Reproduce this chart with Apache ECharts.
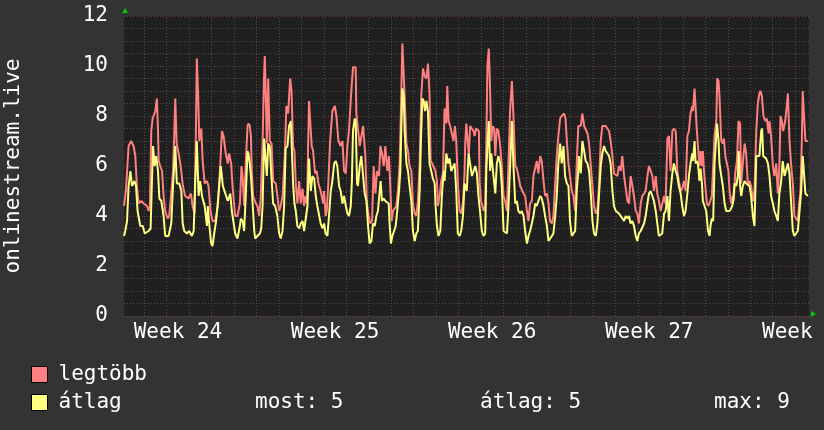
<!DOCTYPE html>
<html>
<head>
<meta charset="utf-8">
<title>onlinestream.live</title>
<script src="https://cdn.jsdelivr.net/npm/echarts@6.0.0/dist/echarts.min.js"></script>
<style>
	html, body { margin: 0; padding: 0; background: #333333; }
	#chart { width: 824px; height: 430px; }
</style>
</head>
<body>
<div id="chart"></div>
<script>
	var monoFont = 'DejaVu Sans Mono';
	/* idő: napok a 24. hét kezdete óta */
	var timeRange = [1.095, 31.62];
	var weekLabels = ['Week 24', 'Week 25', 'Week 26', 'Week 27', 'Week 28'];
	var weekLabelPos = [3.5, 10.5, 17.5, 24.5, 31.5];
	var seriesNames = ['legtöbb', 'átlag'];
	var colorList = ['#ff8080', '#ffff80'];
	var statLabels = ['most: 5', 'átlag: 5', 'max: 9'];

	/* legtöbb */
	var maxPts = [
		[1.095,4.4],[1.18,5.0],[1.30,6.8],[1.41,7.0],[1.52,6.8],[1.60,6.4],[1.67,5.2],[1.75,4.5],[1.87,4.6],[1.97,4.5],
		[2.12,4.4],[2.19,4.2],[2.25,4.4],[2.31,7.4],[2.37,7.9],[2.49,8.2],[2.56,8.7],[2.61,7.4],[2.64,6.2],[2.71,6.0],
		[2.79,5.8],[2.86,4.8],[2.93,4.2],[3.04,3.9],[3.11,4.0],[3.20,4.9],[3.28,5.8],[3.34,7.4],[3.38,8.7],[3.44,6.9],
		[3.53,6.5],[3.62,6.0],[3.72,5.2],[3.82,4.8],[3.97,4.7],[4.08,4.9],[4.15,4.4],[4.24,4.1],[4.30,7.4],[4.34,10.3],
		[4.40,8.8],[4.45,7.0],[4.54,7.5],[4.60,6.2],[4.69,5.3],[4.79,5.4],[4.86,5.2],[4.95,4.2],[5.04,3.8],[5.16,3.8],
		[5.28,4.4],[5.38,6.0],[5.46,7.4],[5.53,7.2],[5.63,6.5],[5.72,6.1],[5.78,6.5],[5.87,6.1],[5.93,5.2],[6.05,4.0],
		[6.15,4.0],[6.26,4.5],[6.33,6.0],[6.38,5.6],[6.45,4.4],[6.52,6.1],[6.60,7.6],[6.64,7.7],[6.70,7.6],[6.75,7.2],
		[6.79,5.8],[6.85,4.8],[6.97,4.5],[7.04,4.4],[7.12,4.0],[7.19,4.8],[7.27,6.9],[7.33,9.4],[7.37,10.4],[7.43,8.1],
		[7.46,6.9],[7.52,9.5],[7.59,7.0],[7.67,6.9],[7.74,5.4],[7.86,5.3],[7.93,4.8],[8.01,4.2],[8.08,4.4],[8.16,4.8],
		[8.26,6.4],[8.33,8.4],[8.41,8.1],[8.50,9.5],[8.56,9.0],[8.63,6.8],[8.69,6.6],[8.75,5.3],[8.82,4.5],[8.90,5.4],
		[8.97,4.5],[9.05,5.1],[9.12,4.4],[9.19,4.8],[9.25,4.5],[9.34,8.6],[9.46,6.8],[9.52,6.6],[9.61,5.7],[9.68,5.8],
		[9.76,5.3],[9.86,5.0],[9.97,4.5],[10.01,5.0],[10.08,4.0],[10.13,4.2],[10.20,5.3],[10.28,7.0],[10.38,8.2],[10.49,8.4],
		[10.56,8.0],[10.65,7.0],[10.75,6.8],[10.83,7.0],[10.90,5.8],[10.98,5.7],[11.05,6.8],[11.12,7.4],[11.21,8.8],
		[11.30,9.95],[11.42,9.95],[11.45,8.1],[11.52,8.1],[11.60,6.8],[11.67,6.8],[11.75,7.6],[11.79,7.6],[11.85,6.4],[11.92,4.5],
		[12.00,4.0],[12.07,3.7],[12.15,3.8],[12.22,6.0],[12.30,4.9],[12.37,5.8],[12.46,5.6],[12.52,6.8],[12.59,6.5],[12.67,6.0],
		[12.74,6.8],[12.79,6.2],[12.83,5.8],[12.90,6.4],[12.96,5.2],[13.02,3.8],[13.08,4.2],[13.23,4.4],[13.30,5.0],[13.38,6.1],
		[13.45,8.8],[13.50,10.9],[13.56,10.9],[13.60,8.8],[13.68,6.9],[13.75,6.6],[13.82,6.0],[13.90,5.8],[13.97,4.5],[14.05,4.1],
		[14.12,4.0],[14.19,4.6],[14.27,6.1],[14.34,8.8],[14.42,9.9],[14.49,9.6],[14.57,9.5],[14.64,10.1],[14.71,8.9],[14.76,6.2],
		[14.83,6.1],[14.97,5.8],[15.04,5.4],[15.08,4.4],[15.16,4.8],[15.23,5.4],[15.31,5.7],[15.38,8.3],[15.46,7.7],[15.50,9.2],
		[15.56,7.8],[15.63,7.6],[15.71,7.6],[15.78,7.0],[15.84,7.6],[15.90,7.0],[15.97,5.4],[16.05,4.2],[16.12,4.1],[16.20,4.5],
		[16.27,5.7],[16.30,6.9],[16.35,7.7],[16.40,7.7],[16.46,6.4],[16.52,7.6],[16.60,7.6],[16.67,7.4],[16.72,7.2],[16.78,7.5],
		[16.91,7.4],[16.94,5.4],[17.00,4.6],[17.07,4.4],[17.12,4.2],[17.19,4.4],[17.24,6.9],[17.29,10.0],[17.35,10.7],[17.41,9.0],
		[17.46,7.0],[17.52,7.6],[17.59,7.5],[17.64,6.4],[17.71,7.5],[17.78,7.4],[17.86,6.8],[17.93,6.0],[18.01,4.8],[18.08,4.6],
		[18.16,4.2],[18.23,6.2],[18.30,8.2],[18.38,9.4],[18.45,8.0],[18.53,6.0],[18.60,5.9],[18.67,5.6],[18.75,5.2],[18.90,4.9],
		[18.97,4.8],[19.05,4.2],[19.12,3.8],[19.19,4.5],[19.27,4.6],[19.34,5.6],[19.42,5.6],[19.49,6.2],[19.56,5.7],[19.64,6.4],
		[19.71,6.2],[19.79,5.4],[19.86,4.8],[19.94,4.9],[20.01,4.5],[20.08,3.8],[20.16,3.7],[20.23,4.0],[20.31,5.3],[20.38,6.4],
		[20.45,7.2],[20.53,7.9],[20.60,8.0],[20.71,8.1],[20.77,7.9],[20.83,7.0],[20.90,6.1],[20.97,5.6],[21.05,5.0],[21.12,4.8],
		[21.20,4.2],[21.27,6.1],[21.34,7.6],[21.37,7.6],[21.45,7.6],[21.52,8.1],[21.60,7.6],[21.67,7.6],[21.75,7.3],[21.82,6.9],
		[21.89,6.1],[21.97,5.2],[22.04,4.4],[22.12,4.1],[22.19,4.2],[22.26,5.2],[22.34,7.0],[22.41,7.6],[22.49,7.6],[22.56,7.6],
		[22.64,7.6],[22.71,7.4],[22.78,7.0],[22.86,6.4],[22.93,5.7],[23.08,5.6],[23.15,6.0],[23.23,5.8],[23.30,6.4],[23.38,5.6],
		[23.45,5.6],[23.53,4.6],[23.60,4.5],[23.67,5.6],[23.75,5.2],[23.82,4.8],[23.90,4.2],[23.97,4.1],[24.04,3.7],[24.12,4.5],
		[24.19,4.8],[24.27,4.9],[24.34,5.0],[24.42,5.6],[24.49,6.0],[24.56,6.0],[24.64,5.6],[24.71,5.0],[24.79,5.6],[24.86,4.9],
		[24.93,4.6],[25.01,4.2],[25.08,4.2],[25.16,4.8],[25.23,4.5],[25.31,7.1],[25.38,7.2],[25.45,5.8],[25.53,7.4],[25.60,7.5],
		[25.68,7.4],[25.75,5.8],[25.82,5.4],[25.90,5.0],[25.97,5.1],[26.05,5.4],[26.12,5.0],[26.20,7.2],[26.27,7.4],[26.34,8.1],
		[26.42,8.4],[26.45,8.2],[26.52,9.1],[26.57,9.1],[26.61,7.6],[26.67,6.8],[26.74,6.0],[26.79,6.6],[26.85,6.0],[26.89,6.6],
		[26.94,5.8],[27.00,5.2],[27.07,4.5],[27.14,4.4],[27.22,4.6],[27.29,4.8],[27.35,4.8],[27.41,7.2],[27.49,7.8],[27.53,9.5],
		[27.59,9.4],[27.63,8.8],[27.71,7.0],[27.78,6.9],[27.83,7.1],[27.89,6.4],[27.96,6.4],[28.03,5.8],[28.08,5.0],[28.15,4.5],
		[28.23,4.8],[28.27,4.6],[28.33,5.7],[28.41,6.2],[28.48,7.8],[28.55,7.7],[28.60,5.3],[28.67,6.1],[28.75,6.9],[28.82,6.5],
		[28.90,5.2],[28.97,5.4],[29.04,5.2],[29.12,4.6],[29.19,5.0],[29.27,7.4],[29.34,8.5],[29.41,8.9],[29.46,9.0],[29.52,8.8],
		[29.59,8.0],[29.67,7.8],[29.74,7.9],[29.82,7.3],[29.86,7.8],[29.93,7.2],[30.01,6.0],[30.08,5.6],[30.16,6.1],[30.23,4.9],
		[30.30,6.0],[30.35,8.0],[30.41,7.8],[30.47,7.4],[30.56,7.8],[30.63,8.4],[30.68,8.9],[30.75,7.0],[30.82,6.1],[30.90,5.3],
		[30.97,4.0],[31.05,4.0],[31.12,3.8],[31.19,4.6],[31.24,5.0],[31.30,7.0],[31.34,9.0],[31.42,9.0],[31.46,7.0],[31.57,7.0]
	];

	/* átlag */
	var avgPts = [
		[1.095,3.2],[1.15,3.4],[1.23,3.8],[1.30,5.2],[1.38,5.8],[1.45,5.2],[1.56,5.4],[1.63,5.2],[1.70,4.2],[1.82,3.6],
		[1.93,3.6],[2.02,3.3],[2.19,3.4],[2.28,3.5],[2.34,5.4],[2.39,6.8],[2.46,6.0],[2.53,6.4],[2.61,5.8],[2.67,4.7],
		[2.76,4.6],[2.86,4.0],[2.93,3.2],[3.08,3.2],[3.20,3.7],[3.28,5.2],[3.38,6.8],[3.45,5.3],[3.56,5.3],[3.65,5.0],
		[3.71,3.7],[3.78,3.4],[3.90,3.3],[4.00,3.4],[4.12,3.2],[4.20,3.4],[4.27,5.4],[4.34,7.0],[4.42,4.8],[4.49,5.4],
		[4.57,4.8],[4.69,4.4],[4.79,3.6],[4.83,4.4],[4.89,3.7],[4.98,2.9],[5.04,2.8],[5.13,3.4],[5.20,3.8],[5.31,4.9],
		[5.41,6.0],[5.50,5.2],[5.61,4.9],[5.72,4.6],[5.83,4.9],[5.90,4.2],[6.05,3.3],[6.15,3.1],[6.26,3.6],[6.30,3.9],
		[6.38,3.8],[6.45,3.4],[6.52,4.8],[6.60,6.6],[6.64,6.5],[6.70,6.1],[6.75,5.6],[6.82,4.6],[6.90,3.4],[6.94,3.1],
		[7.04,3.2],[7.15,3.3],[7.21,3.5],[7.27,4.4],[7.34,7.1],[7.41,7.1],[7.46,5.6],[7.52,6.9],[7.59,6.8],[7.65,5.8],
		[7.74,4.5],[7.83,4.4],[7.93,4.0],[8.01,3.3],[8.08,3.1],[8.16,3.4],[8.23,4.4],[8.30,6.7],[8.38,6.8],[8.45,7.6],
		[8.53,7.8],[8.57,6.8],[8.63,5.3],[8.69,4.5],[8.75,4.2],[8.82,3.6],[8.90,3.5],[8.97,3.7],[9.05,3.8],[9.12,3.4],
		[9.19,3.4],[9.27,4.4],[9.34,6.3],[9.42,5.0],[9.49,5.6],[9.57,5.5],[9.64,4.8],[9.71,4.4],[9.79,4.4],[9.86,3.7],
		[9.94,3.5],[10.01,3.7],[10.08,3.3],[10.16,3.2],[10.23,4.0],[10.31,5.0],[10.38,5.4],[10.46,6.1],[10.53,6.2],[10.60,6.0],
		[10.68,5.2],[10.75,5.0],[10.83,4.5],[10.90,4.8],[10.98,4.4],[11.05,4.1],[11.12,4.0],[11.20,4.4],[11.25,5.4],
		[11.30,7.4],[11.38,7.9],[11.42,7.8],[11.48,5.3],[11.52,5.2],[11.60,6.0],[11.67,6.4],[11.75,6.4],[11.82,4.9],[11.90,4.6],
		[11.97,3.6],[12.04,2.9],[12.12,3.0],[12.19,3.7],[12.27,3.6],[12.34,4.0],[12.41,4.2],[12.49,5.0],[12.53,5.4],[12.59,4.6],
		[12.67,4.7],[12.74,4.6],[12.82,4.6],[12.89,4.5],[12.93,3.7],[12.99,2.9],[13.05,3.2],[13.13,3.4],[13.20,3.6],[13.27,4.2],
		[13.35,5.0],[13.41,5.8],[13.45,7.4],[13.50,9.1],[13.56,8.8],[13.60,7.4],[13.68,6.1],[13.75,5.8],[13.82,5.2],[13.90,4.6],
		[13.97,3.4],[14.05,3.0],[14.12,3.3],[14.19,3.4],[14.27,5.0],[14.34,7.4],[14.39,8.7],[14.45,8.6],[14.51,8.2],[14.57,8.6],
		[14.64,8.2],[14.71,6.1],[14.79,6.1],[14.86,5.5],[14.94,5.3],[14.98,4.4],[15.04,3.6],[15.11,3.2],[15.19,3.4],[15.26,4.8],
		[15.34,5.8],[15.38,5.4],[15.46,6.5],[15.53,6.1],[15.60,6.3],[15.68,5.8],[15.75,5.8],[15.83,6.1],[15.90,5.0],[15.97,3.3],
		[16.05,3.2],[16.12,3.4],[16.20,4.0],[16.27,5.3],[16.30,5.2],[16.37,5.0],[16.45,6.5],[16.52,6.5],[16.60,5.6],[16.67,5.6],
		[16.75,6.0],[16.82,5.7],[16.89,4.8],[16.97,4.1],[17.04,3.4],[17.12,3.2],[17.19,3.3],[17.24,5.8],[17.29,6.8],[17.35,7.8],
		[17.41,5.8],[17.46,6.5],[17.52,6.5],[17.56,5.6],[17.64,4.9],[17.71,6.1],[17.78,6.4],[17.86,6.1],[17.93,5.2],[18.01,3.4],
		[18.16,3.3],[18.23,4.4],[18.30,6.0],[18.38,7.8],[18.45,6.0],[18.53,4.5],[18.60,4.6],[18.67,4.2],[18.75,4.1],[18.82,4.2],
		[18.90,4.0],[18.97,3.4],[19.05,2.9],[19.12,3.2],[19.19,3.4],[19.27,3.7],[19.34,4.0],[19.42,4.5],[19.49,4.4],[19.56,4.6],
		[19.64,4.8],[19.71,4.7],[19.79,4.4],[19.86,4.0],[19.94,3.6],[20.01,3.0],[20.16,3.2],[20.23,3.3],[20.31,4.0],[20.38,4.8],
		[20.45,6.1],[20.53,6.9],[20.60,6.1],[20.68,6.8],[20.75,5.6],[20.83,5.3],[20.90,5.2],[20.97,3.8],[21.05,3.2],[21.12,3.3],
		[21.20,3.4],[21.27,5.0],[21.34,5.8],[21.37,6.4],[21.45,5.7],[21.52,7.0],[21.60,6.6],[21.67,6.2],[21.75,6.1],[21.82,5.8],
		[21.89,5.0],[21.97,3.8],[22.04,3.3],[22.12,3.2],[22.19,3.7],[22.26,4.8],[22.34,6.0],[22.41,6.5],[22.49,6.8],[22.56,6.6],
		[22.64,6.5],[22.71,6.4],[22.78,6.1],[22.86,5.0],[22.93,4.4],[23.01,4.2],[23.15,4.1],[23.23,4.0],[23.38,3.8],[23.45,4.0],
		[23.53,3.9],[23.60,4.0],[23.67,3.7],[23.75,3.8],[23.82,3.6],[23.90,3.2],[23.97,3.0],[24.04,3.3],[24.12,3.4],[24.19,3.4],
		[24.27,3.7],[24.34,4.0],[24.42,4.5],[24.49,4.9],[24.56,5.0],[24.64,4.8],[24.71,4.6],[24.79,4.2],[24.86,3.7],[24.93,3.2],
		[25.01,3.2],[25.08,3.3],[25.16,4.1],[25.23,4.2],[25.31,4.8],[25.38,3.8],[25.45,5.0],[25.53,5.7],[25.60,6.1],[25.68,5.8],
		[25.75,5.6],[25.82,5.2],[25.90,4.9],[25.97,4.4],[26.05,4.0],[26.12,4.2],[26.20,4.9],[26.27,5.6],[26.34,6.1],[26.42,6.5],
		[26.45,6.2],[26.52,7.0],[26.57,6.1],[26.63,6.2],[26.67,6.1],[26.74,5.4],[26.79,5.9],[26.85,5.3],[26.89,4.6],[26.97,4.6],
		[27.04,4.2],[27.12,3.4],[27.19,3.2],[27.23,3.6],[27.29,3.9],[27.35,3.8],[27.41,6.1],[27.46,6.8],[27.52,7.7],[27.59,7.0],
		[27.63,6.1],[27.71,5.6],[27.78,5.2],[27.86,4.5],[27.93,4.2],[28.08,4.2],[28.15,4.3],[28.23,4.5],[28.30,5.3],[28.38,5.2],
		[28.45,5.6],[28.49,6.6],[28.55,5.2],[28.60,4.8],[28.67,5.2],[28.75,5.4],[28.82,5.3],[28.97,5.2],[29.04,4.8],[29.12,4.0],
		[29.19,3.6],[29.27,6.4],[29.34,6.4],[29.41,6.4],[29.49,7.4],[29.53,7.5],[29.58,6.4],[29.64,6.4],[29.71,6.3],[29.79,6.1],
		[29.86,5.6],[29.93,4.8],[30.01,4.5],[30.08,4.2],[30.16,4.0],[30.23,3.8],[30.30,4.9],[30.38,5.4],[30.45,6.2],[30.53,5.6],
		[30.60,5.6],[30.68,6.1],[30.75,5.7],[30.82,4.6],[30.90,3.4],[30.97,3.2],[31.05,3.2],[31.12,3.4],[31.19,4.1],[31.27,5.0],
		[31.34,6.4],[31.42,6.4],[31.46,4.9],[31.57,4.8]
	];

	/* függőleges rács: napok és hetek */
	function createDayLines(from, to) {
		var result = [];
		for(var d = Math.ceil(from); d <= Math.floor(to); d++) {
			var isWeek = d % 7 === 0;
			result.push({
				xAxis: d,
				lineStyle: {
					color: isWeek ? '#773f3f' : '#4e4e4e',
					type: [1, 2],
					width: 1
				}
			});
		}
		return result;
	}

	function createLineSeries(name, data, color, withGrid) {
		var s = {
			name: name,
			type: 'line',
			data: data,
			showSymbol: false,
			symbol: 'none',
			animation: false,
			lineStyle: {
				color: color,
				width: 2
			},
			itemStyle: {
				color: color
			},
			z: 3
		};
		if(withGrid) {
			s.markLine = {
				silent: true,
				symbol: 'none',
				animation: false,
				z: 1,
				label: { show: false },
				emphasis: { disabled: true },
				data: createDayLines(timeRange[0], timeRange[1])
			};
		}
		return s;
	}

	var option = {
		backgroundColor: '#333333',
		textStyle: { fontFamily: monoFont },
		grid: {
			left: 124,
			right: 15,
			top: 16,
			bottom: 114,
			containLabel: false,
			outerBoundsMode: 'none',
			show: true,
			backgroundColor: '#202020',
			borderWidth: 0
		},
		legend: {
			orient: 'vertical',
			left: 31,
			top: 364,
			padding: 0,
			itemWidth: 16,
			itemHeight: 16,
			itemGap: 7,
			icon: 'rect',
			data: seriesNames,
			itemStyle: {
				borderColor: '#000',
				borderWidth: 1
			},
			textStyle: {
				color: '#ffffff',
				fontFamily: monoFont,
				fontSize: 21,
				padding: [0, 0, 0, 6]
			},
			selectedMode: false
		},
		xAxis: {
			type: 'value',
			min: timeRange[0],
			max: timeRange[1],
			axisLine: { show: false },
			axisTick: { show: false },
			splitLine: { show: false },
			axisLabel: {
				customValues: weekLabelPos,
				color: '#ffffff',
				fontFamily: monoFont,
				fontSize: 21,
				margin: 6,
				showMinLabel: true,
				showMaxLabel: true,
				hideOverlap: false,
				formatter: function(value) {
					var idx = weekLabelPos.indexOf(value);
					return idx >= 0 ? weekLabels[idx] : '';
				}
			}
		},
		yAxis: {
			type: 'value',
			min: 0,
			max: 12,
			interval: 2,
			name: 'onlinestream.live',
			nameLocation: 'middle',
			nameRotate: 90,
			nameGap: 100,
			nameTextStyle: {
				color: '#ffffff',
				fontFamily: monoFont,
				fontSize: 21
			},
			axisLine: { show: false },
			axisTick: { show: false },
			axisLabel: {
				color: '#ffffff',
				fontFamily: monoFont,
				fontSize: 21,
				margin: 16
			},
			splitLine: {
				lineStyle: {
					color: '#773f3f',
					type: [1, 2]
				}
			},
			minorTick: { show: false, splitNumber: 4 },
			minorSplitLine: {
				show: true,
				lineStyle: {
					color: '#4e4e4e',
					type: [1, 2]
				}
			}
		},
		graphic: [{
			type: 'polygon',
			shape: { points: [[122, 13], [128, 13], [125, 8]] },
			style: { fill: '#00cc00' },
			silent: true
		}, {
			type: 'polygon',
			shape: { points: [[811, 311], [811, 317], [816, 314]] },
			style: { fill: '#00cc00' },
			silent: true
		}, {
			type: 'text',
			left: 255,
			top: 392,
			style: { text: statLabels[0], fill: '#ffffff', font: '21px ' + monoFont },
			silent: true
		}, {
			type: 'text',
			left: 480,
			top: 392,
			style: { text: statLabels[1], fill: '#ffffff', font: '21px ' + monoFont },
			silent: true
		}, {
			type: 'text',
			left: 714,
			top: 392,
			style: { text: statLabels[2], fill: '#ffffff', font: '21px ' + monoFont },
			silent: true
		}],
		series: [
			createLineSeries(seriesNames[0], maxPts, colorList[0], true),
			createLineSeries(seriesNames[1], avgPts, colorList[1], false)
		]
	};

	var chart = echarts.init(document.getElementById('chart'), null, { renderer: 'canvas' });
	chart.setOption(option);
	window.addEventListener('resize', function() {
		chart.resize();
	});
</script>
</body>
</html>
